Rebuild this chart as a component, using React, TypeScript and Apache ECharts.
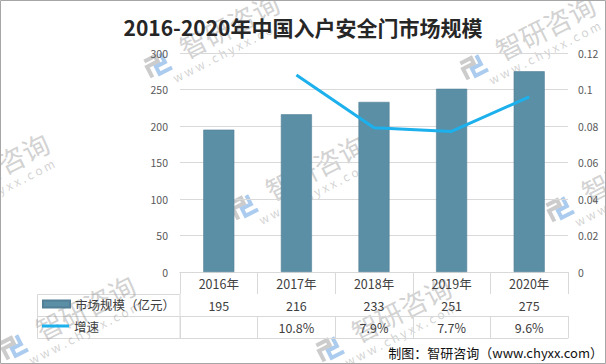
import React, { useEffect, useRef } from "react";
import * as echarts from "echarts";

const years = ["2016年", "2017年", "2018年", "2019年", "2020年"];
const marketSize = [195, 216, 233, 251, 275];
const growthRate: (number | null)[] = [null, 0.108, 0.079, 0.077, 0.096];
const leftTicks = { min: 0, max: 300, interval: 50 };
const rightTicks = { min: 0, max: 0.12, interval: 0.02 };

const FONT = '"Noto Sans CJK SC", "Noto Sans", sans-serif';
const GRID_COLOR = "#d9d9d9";
const TEXT_COLOR = "#404040";

function watermark(cx: number, cy: number) {
  const op = 0.4;
  return {
    type: "group",
    x: cx,
    y: cy,
    rotation: (27 * Math.PI) / 180,
    silent: true,
    z: 100,
    children: [
      {
        type: "text",
        x: 0,
        y: 0,
        style: {
          text: "智研咨询",
          fontSize: 27,
          fontFamily: FONT,
          fill: "#8c8c8c",
          opacity: op,
          align: "center",
          verticalAlign: "middle",
          textAlign: "center",
          textVerticalAlign: "middle",
        },
      },
      {
        type: "text",
        x: -12,
        y: 22,
        style: {
          text: "w w w . c h y x x . c o m",
          fontSize: 12,
          fontFamily: FONT,
          fill: "#8c8c8c",
          opacity: op,
          align: "center",
          verticalAlign: "middle",
          textAlign: "center",
          textVerticalAlign: "middle",
        },
      },
      {
        type: "polyline",
        shape: {
          points: [
            [-92, -6],
            [-80, -6],
            [-80, 0],
            [-92, 0],
            [-92, 12],
          ],
        },
        style: { stroke: "#7f7f7f", lineWidth: 4, fill: "none", opacity: op },
      },
      {
        type: "polyline",
        shape: {
          points: [
            [-74, -6],
            [-74, 4],
            [-84, 4],
            [-84, 12],
            [-70, 12],
          ],
        },
        style: { stroke: "#2f7fd6", lineWidth: 4, fill: "none", opacity: op },
      },
    ],
  };
}

export default function App() {
  const ref = useRef<HTMLDivElement>(null);

  useEffect(() => {
    document.body.style.margin = "0";
    if (!ref.current) return;
    const chart = echarts.init(ref.current, undefined, { renderer: "svg" });

    const growthLabels = growthRate.map((g) =>
      g == null ? "" : (g * 100).toFixed(1) + "%"
    );

    const baseX = {
      type: "category",
      data: years,
      position: "bottom",
      boundaryGap: true,
      axisLine: { show: true, lineStyle: { color: GRID_COLOR, width: 1 } },
      axisTick: {
        show: true,
        interval: 0,
        length: 22,
        lineStyle: { color: GRID_COLOR, width: 1 },
      },
      splitLine: { show: false },
    };

    const waterCenters: [number, number][] = [];
    const A: [number, number] = [315, 167];
    const u: [number, number] = [230, -140];
    const v: [number, number] = [86, 142];
    const combos: [number, number][] = [
      [0, 0],
      [1, 0],
      [0, -1],
      [-1, 0],
      [0, 1],
      [1, 1],
      [-1, -1],
    ];
    combos.forEach(([a, b]) =>
      waterCenters.push([A[0] + a * u[0] + b * v[0], A[1] + a * u[1] + b * v[1]])
    );

    const legendBase = {
      orient: "vertical",
      left: 42,
      itemWidth: 27,
      itemHeight: 7,
      itemGap: 0,
      padding: 0,
      textStyle: {
        fontSize: 12.5,
        color: TEXT_COLOR,
        fontFamily: FONT,
        lineHeight: 14,
      },
    };

    const option: any = {
      animation: false,
      textStyle: { fontFamily: FONT },
      title: {
        text: "2016-2020年中国入户安全门市场规模",
        left: "center",
        top: 11,
        textStyle: {
          fontSize: 21,
          fontWeight: "bold",
          color: "#262626",
          fontFamily: FONT,
        },
      },
      legend: [
        {
          ...legendBase,
          top: 297,
          data: [{ name: "市场规模（亿元）", icon: "rect" }],
        },
        {
          ...legendBase,
          top: 319,
          data: [{ name: "增速", icon: "path://M0,0 L27,0 L27,3 L0,3 Z" }],
        },
      ],
      grid: { left: 180, right: 38, top: 53, bottom: 92, containLabel: false },
      xAxis: [
        {
          ...baseX,
          axisLabel: {
            fontSize: 12.5,
            color: TEXT_COLOR,
            margin: 5,
            interval: 0,
            fontFamily: FONT,
          },
        },
        {
          ...baseX,
          offset: 22,
          axisLabel: {
            fontSize: 12.5,
            color: TEXT_COLOR,
            margin: 5,
            interval: 0,
            fontFamily: FONT,
            formatter: (_v: string, i: number) => String(marketSize[i]),
          },
        },
        {
          ...baseX,
          offset: 44,
          axisLabel: {
            fontSize: 12.5,
            color: TEXT_COLOR,
            margin: 5,
            interval: 0,
            fontFamily: FONT,
            formatter: (_v: string, i: number) => growthLabels[i],
          },
        },
        {
          ...baseX,
          offset: 66,
          axisTick: { show: false },
          axisLabel: { show: false },
        },
      ],
      yAxis: [
        {
          type: "value",
          min: leftTicks.min,
          max: leftTicks.max,
          interval: leftTicks.interval,
          axisLine: { show: false },
          axisTick: { show: false },
          splitLine: { show: true, lineStyle: { color: GRID_COLOR, width: 1 } },
          axisLabel: { fontSize: 10.5, color: "#595959", margin: 12, fontFamily: FONT },
        },
        {
          type: "value",
          min: rightTicks.min,
          max: rightTicks.max,
          interval: rightTicks.interval,
          axisLine: { show: false },
          axisTick: { show: false },
          splitLine: { show: false },
          axisLabel: {
            fontSize: 10.5,
            color: "#595959",
            margin: 10,
            fontFamily: FONT,
            formatter: (val: number) => String(+val.toFixed(2)),
          },
        },
      ],
      series: [
        {
          name: "市场规模（亿元）",
          type: "bar",
          xAxisIndex: 0,
          yAxisIndex: 0,
          data: marketSize,
          barWidth: "40%",
          itemStyle: { color: "#5b8fa6", borderColor: "#527f95", borderWidth: 0.6 },
        },
        {
          name: "增速",
          type: "line",
          xAxisIndex: 0,
          yAxisIndex: 1,
          data: growthRate,
          symbol: "none",
          connectNulls: false,
          lineStyle: { color: "#1cb0ec", width: 3 },
          itemStyle: { color: "#1cb0ec" },
        },
      ],
      graphic: [
        {
          type: "rect",
          shape: { x: 37.5, y: 294.5, width: 142.5, height: 44 },
          style: { fill: "none", stroke: GRID_COLOR, lineWidth: 1 },
          silent: true,
        },
        {
          type: "line",
          shape: { x1: 37.5, y1: 316.5, x2: 180, y2: 316.5 },
          style: { stroke: GRID_COLOR, lineWidth: 1 },
          silent: true,
        },
        {
          type: "text",
          x: 603,
          y: 352,
          style: {
            text: "制图：智研咨询（www.chyxx.com）",
            fontSize: 13,
            fontFamily: FONT,
            fill: "#111111",
            align: "right",
            verticalAlign: "middle",
            textAlign: "right",
            textVerticalAlign: "middle",
          },
        },
        {
          type: "rect",
          shape: { x: 0.5, y: 0.5, width: 605, height: 363 },
          style: { fill: "none", stroke: "#a6a6a6", lineWidth: 1 },
          silent: true,
          z: 200,
        },
        ...waterCenters.map(([x, y]) => watermark(x, y)),
      ],
    };

    chart.setOption(option);
    return () => chart.dispose();
  }, []);

  return <div ref={ref} style={{ width: 606, height: 364 }} />;
}
